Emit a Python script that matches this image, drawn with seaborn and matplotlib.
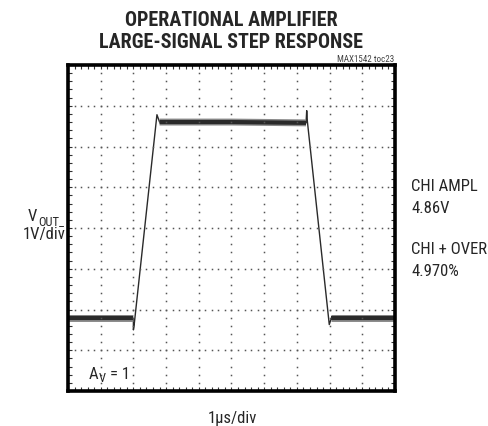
import numpy as np
from matplotlib import pyplot as plt
from matplotlib import font_manager
import seaborn as sns

# waveform (x in divisions of 1us, y in divisions of 1V)
time_div = [0.0, 2.0, 2.0, 2.02, 2.72, 2.8, 5.0, 7.28, 7.3, 7.32, 7.99, 8.05, 10.0]
vout_div = [1.78, 1.78, 1.5, 1.6, 6.78, 6.6, 6.6, 6.58, 6.88, 6.62, 1.63, 1.78, 1.78]
low_flat = slice(0, 2)
high_flat = slice(5, 8)
end_flat = slice(11, 13)

n_xdiv = 10
n_ydiv = 8

title_lines = ["OPERATIONAL AMPLIFIER", "LARGE-SIGNAL STEP RESPONSE"]
right_labels = ["CHI AMPL", "4.86V", "CHI + OVER", "4.970%"]

sns.set_style("white")
installed = {f.name for f in font_manager.fontManager.ttflist}
narrow = [n for n in ["Roboto Condensed", "Archivo Narrow", "Liberation Sans Narrow",
                      "Barlow Condensed", "Asap Condensed"] if n in installed]
plt.rcParams['font.family'] = narrow[:1] + ['DejaVu Sans']

W, H = 488, 427
fig = plt.figure(figsize=(W / 100, H / 100), dpi=100)
ax = fig.add_axes([68 / W, 1 - 392 / H, 327 / W, 326 / H])


def px(x, y):
    return x / W, 1 - y / H


trace = "#2a2a2a"
sns.lineplot(x=time_div, y=vout_div, ax=ax, sort=False, estimator=None,
             color=trace, lw=1.0)
for sl in (low_flat, high_flat, end_flat):
    ax.plot(time_div[sl], vout_div[sl], color="#8a8a8a", lw=5.0, solid_capstyle="butt")
    ax.plot(time_div[sl], vout_div[sl], color=trace, lw=3.0, solid_capstyle="butt")

ax.set_xlim(0, n_xdiv)
ax.set_ylim(0, n_ydiv)

# dotted scope graticule
minor_x = np.arange(0, n_xdiv + 0.01, 0.2)
minor_y = np.arange(0, n_ydiv + 0.01, 0.2)
for gx in range(1, n_xdiv):
    ax.plot(np.full_like(minor_y, gx), minor_y, ls="none", marker="s",
            ms=1.1, color="#555555", mew=0)
for gy in range(1, n_ydiv):
    ax.plot(minor_x, np.full_like(minor_x, gy), ls="none", marker="s",
            ms=1.1, color="#555555", mew=0)

ax.set_xticks(range(0, n_xdiv + 1))
ax.set_yticks(range(0, n_ydiv + 1))
ax.set_xticks(minor_x, minor=True)
ax.set_yticks(minor_y, minor=True)
ax.tick_params(which="both", direction="in", length=3, width=0.8, color="#333333",
               top=True, right=True, bottom=True, left=True,
               labelbottom=False, labelleft=False)
for s in ax.spines.values():
    s.set_visible(True)
    s.set_linewidth(2.6)
    s.set_color("black")

# titles
fig.text(*px(231, 21), title_lines[0], ha="center", va="center",
         fontsize=14.5, fontweight=900)
fig.text(*px(231, 43), title_lines[1], ha="center", va="center",
         fontsize=14.5, fontweight=900)
fig.text(*px(394, 62), "MAX1542 toc23", ha="right", va="baseline",
         fontsize=6.5, color="#444444")

# y label
fig.text(*px(28, 221), "V", ha="left", va="baseline", fontsize=12)
fig.text(*px(38, 225), "OUT_", ha="left", va="baseline", fontsize=9)
fig.text(*px(44, 239), "1V/div", ha="center", va="baseline", fontsize=12)

# x label
fig.text(*px(232, 423), "1\u00b5s/div", ha="center", va="baseline", fontsize=12)

# gain
fig.text(*px(89, 379), "A", ha="left", va="baseline", fontsize=12)
fig.text(*px(99, 382), "V", ha="left", va="baseline", fontsize=9)
fig.text(*px(110, 379), "= 1", ha="left", va="baseline", fontsize=12)

# right-hand readouts
for lbl, yy in zip(right_labels, [191, 213, 254, 276]):
    fig.text(*px(411, yy), lbl, ha="left", va="baseline", fontsize=12)

fig.savefig("out.png", dpi=100, facecolor="white")
